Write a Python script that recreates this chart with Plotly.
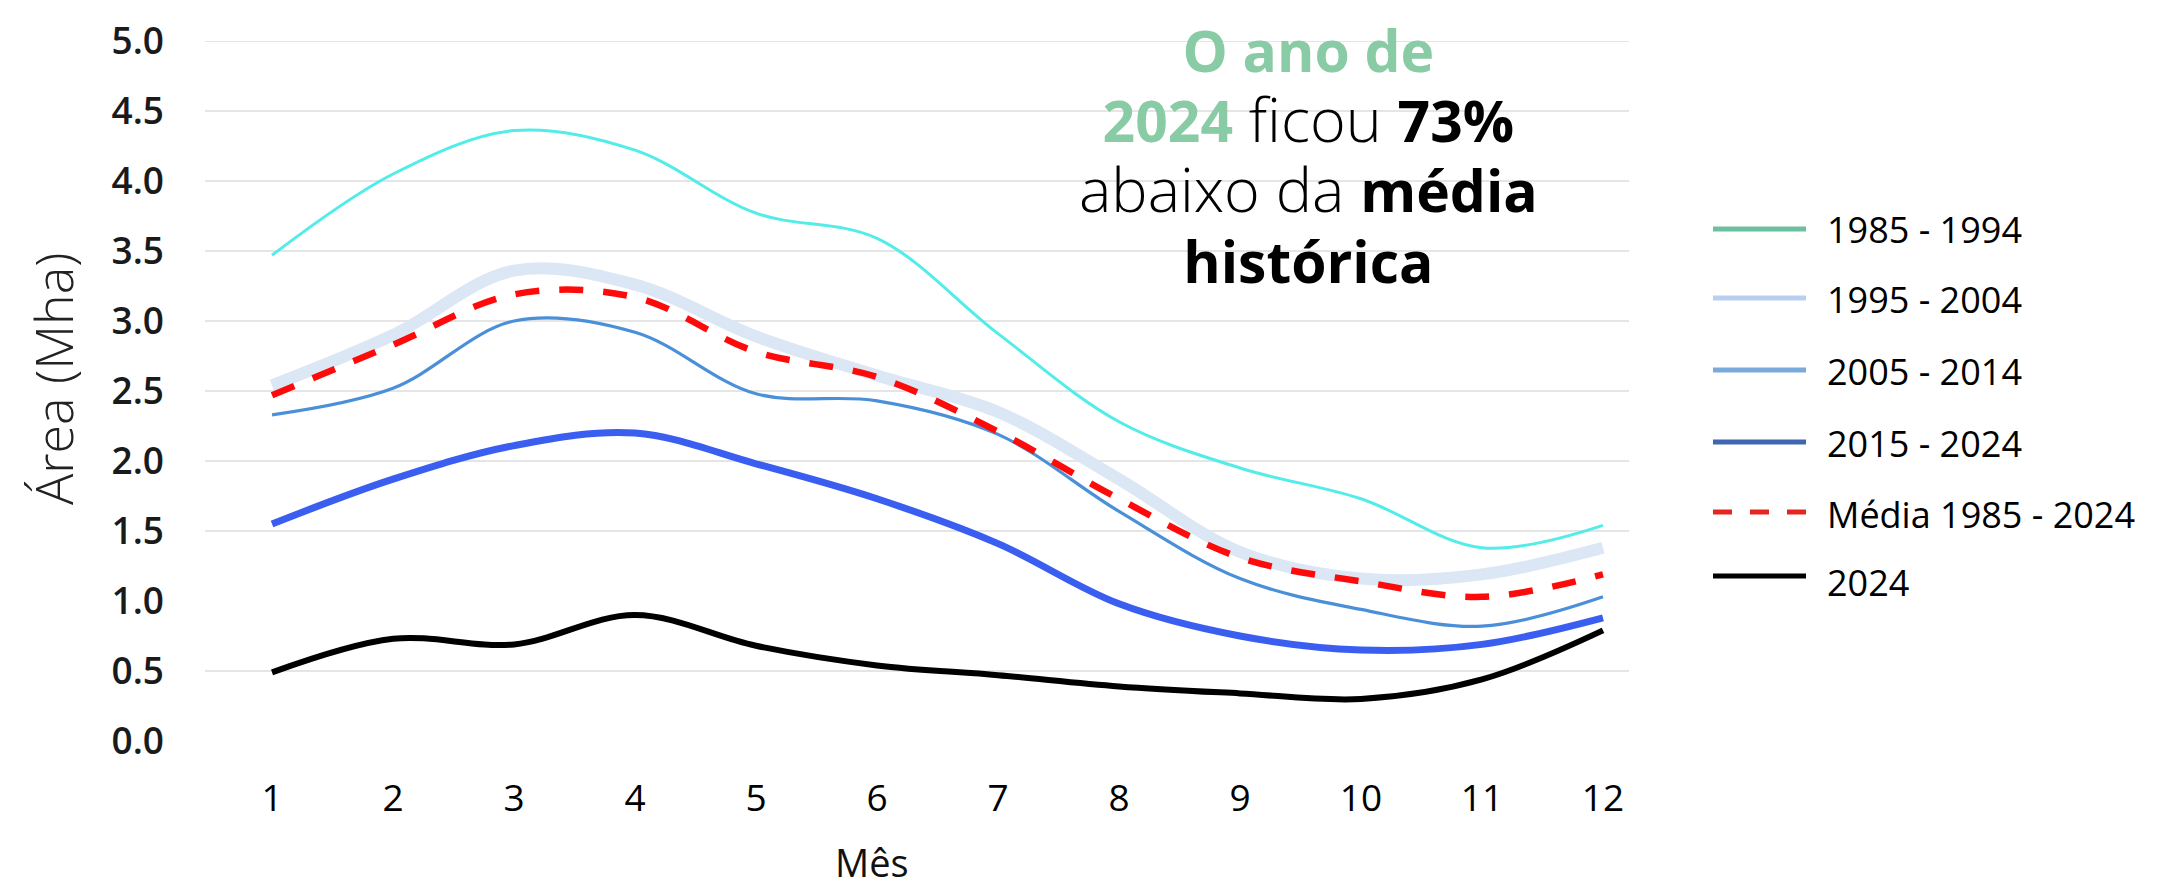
import plotly.graph_objects as go

# ---------------- data ----------------
months = list(range(1, 13))
month_labels = [str(m) for m in months]

s_1985_1994 = [3.47, 4.05, 4.36, 4.22, 3.77, 3.59, 2.91, 2.28, 1.95, 1.73, 1.38, 1.54]
s_1995_2004 = [2.54, 2.90, 3.36, 3.26, 2.89, 2.61, 2.35, 1.87, 1.35, 1.16, 1.19, 1.38]
s_2005_2014 = [2.33, 2.52, 3.00, 2.92, 2.48, 2.43, 2.19, 1.64, 1.16, 0.94, 0.82, 1.03]
s_2015_2024 = [1.55, 1.87, 2.11, 2.20, 1.98, 1.73, 1.41, 0.98, 0.75, 0.65, 0.69, 0.88]
s_media = [2.47, 2.83, 3.19, 3.17, 2.78, 2.60, 2.21, 1.73, 1.31, 1.14, 1.03, 1.19]
s_2024 = [0.49, 0.73, 0.69, 0.90, 0.68, 0.54, 0.47, 0.39, 0.34, 0.30, 0.44, 0.79]

legend_names = ["1985 - 1994", "1995 - 2004", "2005 - 2014", "2015 - 2024",
                "Média 1985 - 2024", "2024"]
y_ticks = [0.0, 0.5, 1.0, 1.5, 2.0, 2.5, 3.0, 3.5, 4.0, 4.5, 5.0]
y_tick_labels = ["0.0", "0.5", "1.0", "1.5", "2.0", "2.5", "3.0", "3.5", "4.0", "4.5", "5.0"]
grid_levels = [0.5, 1.5, 2.0, 2.5, 3.0, 3.5, 4.0, 4.5, 5.0]

# ---------------- layout geometry ----------------
W, H = 2172, 888
ML, MR, MT, MB = 205, 543, 41, 147
PW, PH = W - ML - MR, H - MT - MB
FONT = "Open Sans, Noto Sans, DejaVu Sans, sans-serif"


def px_x(px):
    return (px - ML) / PW


def px_y(py):
    return (H - MB - py) / PH


fig = go.Figure()

# plotted lines (drawn order: light band first)
plot_series = [
    (s_1995_2004, "#dce7f5", 12, "solid"),
    (s_1985_1994, "#52ece9", 3, "solid"),
    (s_2005_2014, "#4a90d8", 3.2, "solid"),
    (s_2015_2024, "#3a5ef0", 7, "solid"),
    (s_media, "#ff0a0a", 6.5, "24px,20px"),
    (s_2024, "#000000", 6, "solid"),
]
plot_names = [legend_names[1], legend_names[0], legend_names[2], legend_names[3],
              legend_names[4], legend_names[5]]
for (vals, col, wdt, dash), name in zip(plot_series, plot_names):
    fig.add_trace(go.Scatter(
        x=months, y=vals, mode="lines", name=name, showlegend=False,
        line=dict(color=col, width=wdt, dash=dash, shape="spline", smoothing=1.0),
        hoverinfo="x+y+name",
    ))

shapes = []
# gridlines
for g in grid_levels:
    shapes.append(dict(type="line", xref="paper", x0=0, x1=1, yref="y", y0=g, y1=g,
                       line=dict(color="#dcdcdc", width=1.6), layer="below"))

# custom legend
legend_colors = ["#6cc0a0", "#b9cfef", "#7aaadc", "#3e66b1", "#e52520", "#000000"]
legend_dash = ["solid", "solid", "solid", "solid", "19px,18px", "solid"]
legend_line_y = [229, 298, 370, 442, 512, 576]
legend_text_y = [229, 299, 371, 443, 514, 582]
annotations = []
for name, col, dsh, ly, ty in zip(legend_names, legend_colors, legend_dash,
                                  legend_line_y, legend_text_y):
    shapes.append(dict(type="line", xref="paper", yref="paper",
                       x0=px_x(1713), x1=px_x(1806), y0=px_y(ly), y1=px_y(ly),
                       line=dict(color=col, width=5, dash=dsh)))
    annotations.append(dict(text=name, xref="paper", yref="paper",
                            x=px_x(1825), y=px_y(ty), xanchor="left", yanchor="middle",
                            showarrow=False, font=dict(family=FONT, size=36, color="#000")))

# headline (single multi-line annotation; line spacing follows base size)
green = "#88cba4"
B = "font-size:57px"
L = "font-weight:300;font-size:61px"
headline = (
    f"<b><span style='color:{green};{B}'>O ano de</span></b><br>"
    f"<b><span style='color:{green};{B}'>2024</span></b>"
    f"<span style='{L}'> ficou </span><b><span style='{B}'>73%</span></b><br>"
    f"<span style='{L}'>abaixo da </span><b><span style='{B}'>média</span></b><br>"
    f"<b><span style='{B}'>histórica</span></b>"
)
annotations.append(dict(text=headline, xref="paper", yref="paper",
                        x=px_x(1308), y=px_y(9), xanchor="center", yanchor="top",
                        align="center", showarrow=False,
                        font=dict(family=FONT, size=54, color="#000")))

# axis titles
annotations.append(dict(text="Área (Mha)", xref="paper", yref="paper",
                        x=px_x(52), y=px_y(379), xanchor="center", yanchor="middle",
                        textangle=-90, showarrow=False,
                        font=dict(family=FONT, size=52, color="#222", weight=300)))
annotations.append(dict(text="Mês", xref="paper", yref="paper",
                        x=px_x(872), y=px_y(862), xanchor="center", yanchor="middle",
                        showarrow=False,
                        font=dict(family=FONT, size=38, color="#111")))

fig.update_layout(
    width=W, height=H,
    margin=dict(l=ML, r=MR, t=MT, b=MB, pad=0),
    paper_bgcolor="white", plot_bgcolor="white",
    showlegend=False,
    shapes=shapes, annotations=annotations,
    font=dict(family=FONT, color="#000"),
    xaxis=dict(range=[0.446, 12.215], tickmode="array", tickvals=months, ticktext=month_labels,
               showgrid=False, zeroline=False, showline=False, ticks="",
               ticklabelstandoff=32,
               tickfont=dict(family=FONT, size=37, color="#000")),
    yaxis=dict(range=[0, 5], tickmode="array", tickvals=y_ticks, ticktext=y_tick_labels,
               showgrid=False, zeroline=False, showline=False, ticks="",
               ticklabelstandoff=40,
               tickfont=dict(family=FONT, size=37, color="#1a1a1a", weight=600)),
)

fig.write_html("out.html", config={"displayModeBar": False},
               post_script="document.body.style.margin='0';document.body.style.overflow='hidden';")
